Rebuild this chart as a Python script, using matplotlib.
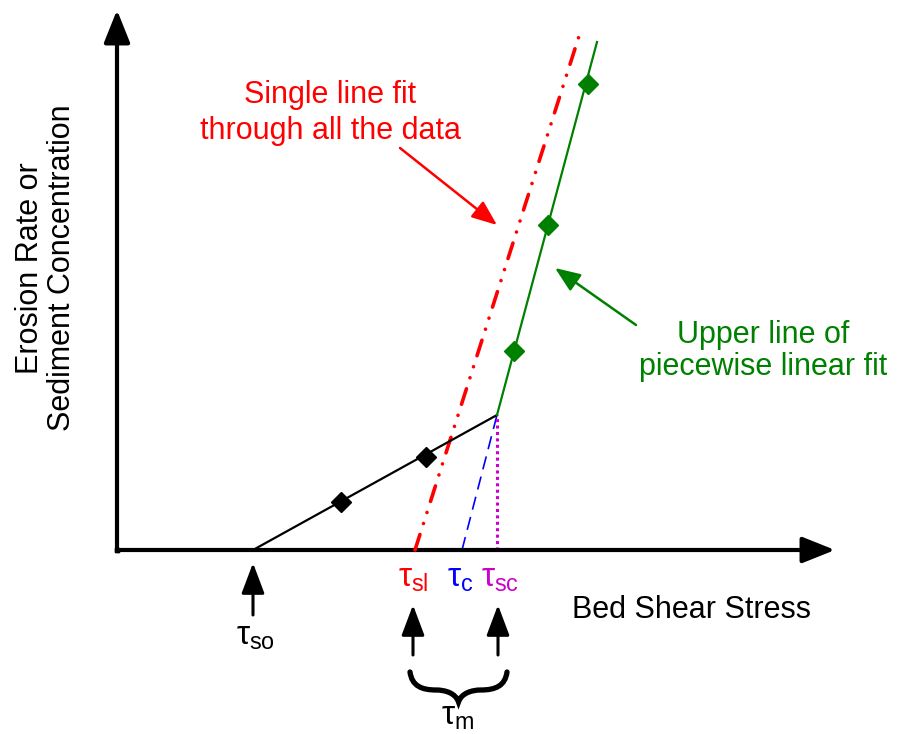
"""
Schematic: single line fit vs piecewise linear fit of erosion rate against bed shear stress.
"""
import matplotlib

matplotlib.use("Agg")
import matplotlib.pyplot as plt
from matplotlib.path import Path
from matplotlib.patches import PathPatch

plt.rcParams["font.family"] = ["Liberation Sans", "DejaVu Sans"]
plt.rcParams["mathtext.fontset"] = "custom"
plt.rcParams["mathtext.rm"] = "Liberation Sans"
plt.rcParams["mathtext.it"] = "Liberation Sans"
plt.rcParams["mathtext.bf"] = "Liberation Sans:bold"

# thresholds on the stress axis (schematic units)
tau_so = 136
tau_sl = 298
tau_c = 345
tau_sc = 380

# lower branch of the piecewise fit
lower_x = [tau_so, tau_sc]
lower_y = [0, 135]
lower_pts_x = [224, 309]
lower_pts_y = [48, 93]

# upper branch of the piecewise fit
upper_x = [tau_sc, 480]
upper_y = [135, 508]
upper_pts_x = [397, 431, 471]
upper_pts_y = [199, 325, 466]

# single line through all the data
single_x = [tau_sl, 463]
single_y = [0, 517]

RED = "#FF0000"
GREEN = "#008000"
BLUE = "#0000FF"
MAGENTA = "#CC00CC"
FS = 22

fig = plt.figure(figsize=(8.98, 7.34), dpi=100)
ax = fig.add_axes([0, 0, 1, 1])
ax.set_xlim(-117, 781)
ax.set_ylim(-184, 550)
ax.axis("off")

# axes with arrow heads
axis_head = dict(arrowstyle="-|>,head_length=0.8,head_width=0.32",
                 mutation_scale=25, lw=3, color="k", shrinkA=0, shrinkB=0)
ax.annotate("", xy=(0, 540), xytext=(0, 0), arrowprops=axis_head)
ax.annotate("", xy=(718, 0), xytext=(0, 0), arrowprops=axis_head)
ax.plot([0, 0], [0, 0], marker="s", ms=2.2, color="k")

# fits
ax.plot(single_x, single_y, color=RED, lw=2.6,
        ls=(0, (4.5, 3.2, 0.01, 3.2, 0.01, 3.2)), dash_capstyle="round", zorder=3)
ax.plot([tau_c, tau_sc], [0, lower_y[1]], color=BLUE, lw=1.2, ls=(0, (8, 4.5)), zorder=2)
ax.plot([tau_sc, tau_sc], [0, lower_y[1]], color=MAGENTA, lw=2.2, ls=(0, (1, 1.1)), zorder=2)
ax.plot(lower_x, lower_y, color="k", lw=1.6, zorder=4)
ax.plot(upper_x, upper_y, color=GREEN, lw=1.6, zorder=4)
ax.plot(lower_pts_x, lower_pts_y, ls="none", marker="D", ms=10, color="k", zorder=5)
ax.plot(upper_pts_x, upper_pts_y, ls="none", marker="D", ms=10, color=GREEN, zorder=5)

# callouts
ax.text(213, 437, "Single line fit\nthrough all the data", color=RED, fontsize=FS,
        ha="center", va="center", linespacing=1.22)
ax.annotate("", xy=(380, 325), xytext=(283, 402),
            arrowprops=dict(arrowstyle="-|>,head_length=0.7,head_width=0.28",
                            mutation_scale=22, lw=1.8, color=RED,
                            shrinkA=0, shrinkB=0))
ax.text(646, 199, "Upper line of\npiecewise linear fit", color=GREEN, fontsize=FS,
        ha="center", va="center", linespacing=1.12)
ax.annotate("", xy=(438, 282), xytext=(519, 225),
            arrowprops=dict(arrowstyle="-|>,head_length=0.7,head_width=0.28",
                            mutation_scale=22, lw=1.8, color=GREEN,
                            shrinkA=0, shrinkB=0))

ax.text(455, -60, "Bed Shear Stress", fontsize=FS, ha="left", va="center")
ax.text(-71, 282, "Erosion Rate or\nSediment Concentration", fontsize=FS,
        rotation=90, ha="center", va="center", linespacing=1.1)

# threshold labels
ax.text(tau_sl - 2, -28, r"$\tau_{\mathregular{sl}}$", color=RED, fontsize=FS + 2,
        ha="center", va="center")
ax.text(tau_c - 2, -28, r"$\tau_{\mathregular{c}}$", color=BLUE, fontsize=FS + 2,
        ha="center", va="center")
ax.text(tau_sc + 3, -28, r"$\tau_{\mathregular{sc}}$", color=MAGENTA, fontsize=FS + 2,
        ha="center", va="center")
ax.text(tau_so + 2, -86, r"$\tau_{\mathregular{so}}$", color="k", fontsize=FS + 2,
        ha="center", va="center")
ax.text((tau_sl + tau_sc) / 2 + 2, -167, r"$\tau_{\mathregular{m}}$", color="k",
        fontsize=FS + 2, ha="center", va="center")

# pointer arrows under the axis
small_head = dict(arrowstyle="-|>,head_length=0.85,head_width=0.32",
                  mutation_scale=22, lw=2.2, color="k", shrinkA=0, shrinkB=0)
ax.annotate("", xy=(tau_so, -13), xytext=(tau_so, -65), arrowprops=small_head)
ax.annotate("", xy=(tau_sl - 2, -55), xytext=(tau_sl - 2, -105), arrowprops=small_head)
ax.annotate("", xy=(tau_sc + 1, -55), xytext=(tau_sc + 1, -105), arrowprops=small_head)

# under-brace spanning tau_sl .. tau_sc
x0, x1 = tau_sl - 5, tau_sc + 10
xm = (x0 + x1) / 2
yt, ytip = -122, -152
ym = -140
w = x1 - x0
verts = [
    (x0, yt), (x0 + 0.02 * w, ym + 4), (x0 + 0.12 * w, ym), (x0 + 0.27 * w, ym),
    (xm - 0.14 * w, ym), (xm - 0.03 * w, ym - 3), (xm, ytip),
    (xm + 0.03 * w, ym - 3), (xm + 0.14 * w, ym), (x1 - 0.27 * w, ym),
    (x1 - 0.12 * w, ym), (x1 - 0.02 * w, ym + 4), (x1, yt),
]
codes = [Path.MOVETO] + [Path.CURVE4] * 12
ax.add_patch(PathPatch(Path(verts, codes), fill=False, lw=3.8, color="k",
                       capstyle="round", joinstyle="miter"))

fig.savefig("out.png", dpi=100)
